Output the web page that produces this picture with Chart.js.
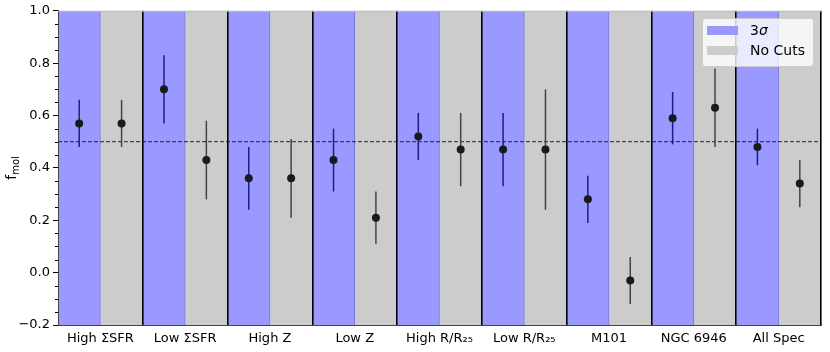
<!DOCTYPE html>
<html>
<head>
<meta charset="utf-8">
<script src="https://cdn.jsdelivr.net/npm/chart.js@4"></script>
<style>
  html, body { margin: 0; padding: 0; background: #fff; }
  #wrap { width: 830px; height: 352px; position: relative; }
</style>
</head>
<body>
<div id="wrap"><canvas id="grafico"></canvas></div>
<script>
// categories and values
const categories = ["High ΣSFR", "Low ΣSFR", "High Z", "Low Z", "High R/R₂₅", "Low R/R₂₅", "M101", "NGC 6946", "All Spec"];

const sigmaVals = [0.57, 0.70, 0.36, 0.43, 0.52, 0.47, 0.28, 0.59, 0.48];
const sigmaLow  = [0.48, 0.57, 0.24, 0.31, 0.43, 0.33, 0.19, 0.49, 0.41];
const sigmaHigh = [0.66, 0.83, 0.48, 0.55, 0.61, 0.61, 0.37, 0.69, 0.55];

const nocutVals = [0.57, 0.43, 0.36, 0.21, 0.47, 0.47, -0.03, 0.63, 0.34];
const nocutLow  = [0.48, 0.28, 0.21, 0.11, 0.33, 0.24, -0.12, 0.48, 0.25];
const nocutHigh = [0.66, 0.58, 0.51, 0.31, 0.61, 0.70, 0.06, 0.78, 0.43];

const yMin = -0.2;
const yMax = 1.0;
const refLine = 0.5;
const yTicks = [-0.2, 0.0, 0.2, 0.4, 0.6, 0.8, 1.0];

const BLUE = "#9999ff";
const GRAY = "#cccccc";
const FONT = "'DejaVu Sans', sans-serif";

// left half of each group = 3σ, right half = No Cuts
const sigmaX = categories.map((c, i) => i + 0.25);
const nocutX = categories.map((c, i) => i + 0.75);

// error bars + minor ticks + y title + legend
const extras = {
    id: "extras",
    beforeDatasetDraw(chart, args) {
        const ds = chart.data.datasets[args.index];
        if (!ds.errLow) return;
        const x2 = chart.scales.x2, y = chart.scales.y, c = chart.ctx;
        c.save();
        c.strokeStyle = ds.errColor;
        c.lineWidth = 1.5;
        ds.data.forEach((p, i) => {
            const px = x2.getPixelForValue(p.x);
            c.beginPath();
            c.moveTo(px, y.getPixelForValue(ds.errLow[i]));
            c.lineTo(px, y.getPixelForValue(ds.errHigh[i]));
            c.stroke();
        });
        c.restore();
    },
    afterDraw(chart) {
        const c = chart.ctx, y = chart.scales.y, area = chart.chartArea;
        c.save();
        // minor ticks
        c.strokeStyle = "#000";
        c.lineWidth = 1;
        for (let k = 0; k <= 24; k++) {
            if (k % 4 === 0) continue;
            const py = Math.round(y.getPixelForValue(yMin + k * 0.05)) + 0.5;
            c.beginPath();
            c.moveTo(area.left - 3, py);
            c.lineTo(area.left, py);
            c.stroke();
        }
        // top frame
        c.strokeStyle = "#bbbbbb";
        c.beginPath();
        c.moveTo(area.left, area.top + 0.5);
        c.lineTo(area.right, area.top + 0.5);
        c.stroke();

        // y title f_mol
        c.translate(11, (area.top + area.bottom) / 2);
        c.rotate(-Math.PI / 2);
        c.fillStyle = "#000";
        c.textBaseline = "alphabetic";
        c.font = "14px " + FONT;
        const fw = c.measureText("f").width;
        c.font = "10px " + FONT;
        const sw = c.measureText("mol").width;
        const x0 = -(fw + sw) / 2;
        c.font = "14px " + FONT;
        c.fillText("f", x0, 5);
        c.font = "10px " + FONT;
        c.fillText("mol", x0 + fw, 8);
        c.restore();

        // legend
        c.save();
        const lx = 702, ly = 18, lw = 111, lh = 48;
        c.fillStyle = "rgba(255,255,255,0.8)";
        c.strokeStyle = "#cccccc";
        c.lineWidth = 1;
        c.beginPath();
        c.roundRect(lx + 0.5, ly + 0.5, lw, lh, 3);
        c.fill();
        c.stroke();
        c.fillStyle = BLUE;
        c.fillRect(707, 26, 31, 9);
        c.fillStyle = GRAY;
        c.fillRect(707, 46, 31, 9);
        c.fillStyle = "#000";
        c.textBaseline = "middle";
        c.font = "14px " + FONT;
        c.fillText("3", 750, 31);
        const w3 = c.measureText("3").width;
        c.font = "italic 14px " + FONT;
        c.fillText("σ", 750 + w3, 31);
        c.font = "14px " + FONT;
        c.fillText("No Cuts", 750, 51);
        c.restore();
    }
};

const ctx = document.getElementById("grafico");
const lastLine = categories.length;

new Chart(ctx, {
    type: "bar",
    data: {
        labels: categories,
        datasets: [
            {
                label: "3σ",
                xAxisID: "x2",
                data: sigmaX.map(x => ({ x: x, y: [yMin, yMax] })),
                backgroundColor: BLUE,
                borderColor: "#7777dd",
                borderWidth: { left: 0, right: 1, top: 0, bottom: 0 },
                borderSkipped: false,
                grouped: false,
                order: 5
            },
            {
                label: "No Cuts",
                xAxisID: "x2",
                data: nocutX.map(x => ({ x: x, y: [yMin, yMax] })),
                backgroundColor: GRAY,
                borderWidth: 0,
                grouped: false,
                order: 5
            },
            {
                type: "line",
                label: "ref",
                xAxisID: "x3",
                data: [{ x: 0, y: refLine }, { x: 1, y: refLine }],
                borderColor: "#222",
                borderWidth: 1,
                borderDash: [4, 2],
                pointRadius: 0,
                order: 3
            },
            {
                type: "scatter",
                label: "3σ pts",
                xAxisID: "x2",
                data: sigmaVals.map((v, i) => ({ x: sigmaX[i], y: v })),
                errLow: sigmaLow,
                errHigh: sigmaHigh,
                errColor: "#1c1c8c",
                pointRadius: 4,
                pointBackgroundColor: "#1a1a1a",
                pointBorderWidth: 0,
                order: 1
            },
            {
                type: "scatter",
                label: "No Cuts pts",
                xAxisID: "x2",
                data: nocutVals.map((v, i) => ({ x: nocutX[i], y: v })),
                errLow: nocutLow,
                errHigh: nocutHigh,
                errColor: "#444444",
                pointRadius: 4,
                pointBackgroundColor: "#1a1a1a",
                pointBorderWidth: 0,
                order: 1
            }
        ]
    },
    options: {
        responsive: true,
        maintainAspectRatio: false,
        animation: false,
        events: [],
        layout: { padding: { top: 10, right: 9, left: 0, bottom: 0 } },
        datasets: {
            bar: { categoryPercentage: 1, barPercentage: 1 }
        },
        plugins: {
            legend: { display: false },
            tooltip: { enabled: false }
        },
        scales: {
            x: {
                type: "category",
                offset: true,
                grid: {
                    z: 1,
                    offset: true,
                    color: c => (c.index === 0 || c.index === lastLine) ? "#444" : "#000",
                    lineWidth: c => (c.index === 0 || c.index === lastLine) ? 1 : 1.6,
                    drawTicks: false
                },
                border: { display: true, color: "#444", width: 1, z: 1 },
                ticks: {
                    color: "#000",
                    padding: 6,
                    maxRotation: 0,
                    autoSkip: false,
                    font: { family: FONT, size: 13 }
                },
                afterFit(scale) { scale.height = 27; }
            },
            x2: {
                type: "linear",
                display: false,
                offset: false,
                min: 0,
                max: categories.length
            },
            x3: {
                type: "linear",
                display: false,
                offset: false,
                min: 0,
                max: 1
            },
            y: {
                min: yMin,
                max: yMax,
                afterBuildTicks(scale) {
                    scale.ticks = yTicks.map(v => ({ value: v }));
                },
                ticks: {
                    color: "#000",
                    padding: 3,
                    font: { family: FONT, size: 13 },
                    callback: v => (v < 0 ? "−" : "") + Math.abs(v).toFixed(1)
                },
                grid: {
                    drawOnChartArea: false,
                    color: "#000",
                    tickLength: 5
                },
                border: { display: true, color: "#444", width: 1, z: 1 },
                afterFit(scale) { scale.width = 58; }
            }
        }
    },
    plugins: [extras]
});
</script>
</body>
</html>
